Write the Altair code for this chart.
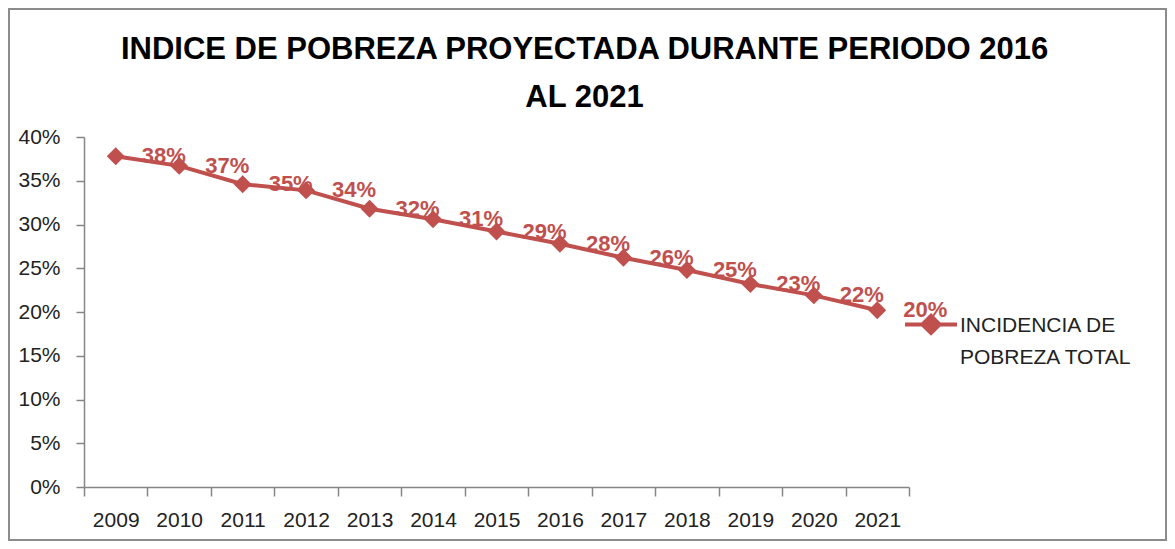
import altair as alt
import pandas as pd

years = ["2009", "2010", "2011", "2012", "2013", "2014", "2015",
         "2016", "2017", "2018", "2019", "2020", "2021"]
incidencia = [0.378, 0.367, 0.346, 0.339, 0.318, 0.306, 0.292,
              0.278, 0.262, 0.248, 0.232, 0.219, 0.202]
serie = "INCIDENCIA DE POBREZA TOTAL"
y_ticks = [0, 0.05, 0.10, 0.15, 0.20, 0.25, 0.30, 0.35, 0.40]

df = pd.DataFrame({"anio": years, "valor": incidencia, "serie": serie})

RED = "#C0504D"
FONT = "Liberation Sans"
W, H = 825, 350
PL, PT, PR, PB = 76, 129, 258, 54

x_enc = alt.X("anio:O", title=None,
              scale=alt.Scale(type="band", paddingInner=0, paddingOuter=0),
              axis=alt.Axis(labelAngle=0, tickBand="extent", tickSize=9,
                            labelPadding=13, labelFontSize=21, labelFont=FONT,
                            labelColor="#222", domainColor="#868686",
                            tickColor="#868686", domainWidth=1.5, tickWidth=1.5))
y_enc = alt.Y("valor:Q", title=None,
              scale=alt.Scale(domain=[0, 0.4], nice=False, zero=True),
              axis=alt.Axis(values=y_ticks, format=".0%", tickSize=8,
                            labelPadding=16, labelFontSize=21, labelFont=FONT,
                            labelColor="#222", domainColor="#868686",
                            tickColor="#868686", grid=False,
                            domainWidth=1.5, tickWidth=1.5))

base = alt.Chart(df)

line = base.mark_line(strokeWidth=4).encode(
    x=x_enc, y=y_enc,
    color=alt.Color("serie:N", scale=alt.Scale(range=[RED]), title=None,
                    legend=alt.Legend(
                        orient="none", legendX=819, legendY=167, padding=0,
                        symbolType="M-1,-0.29L1,-0.29M-0.33,-0.29L0,-0.62L0.33,-0.29L0,0.04Z",
                        symbolSize=2704, symbolStrokeWidth=4,
                        symbolFillColor=RED, symbolStrokeColor=RED,
                        labelExpr="[slice(datum.label, 0, 13), slice(datum.label, 14)]",
                        labelBaseline="alphabetic", labelFontSize=21,
                        labelFont=FONT, labelColor="#222", labelLimit=300,
                        labelOffset=1)),
)

points = base.mark_point(shape="diamond", filled=True, size=320, opacity=1,
                         color=RED).encode(x=x_enc, y=y_enc)

labels = base.mark_text(align="left", baseline="middle", dx=26, fontSize=22,
                        fontWeight="bold", font=FONT, color=RED).encode(
    x=x_enc, y=y_enc, text=alt.Text("valor:Q", format=".0%"))

border = alt.Chart(alt.Data(values=[{"k": 1}])).mark_rect(
    fill="transparent", stroke="#8c8c8c", strokeWidth=2).encode(
    x=alt.value(-PL + 1), x2=alt.value(W + PR - 1),
    y=alt.value(-PT + 1), y2=alt.value(H + PB - 1))

chart = alt.layer(border, line, points, labels).properties(
    width=W, height=H,
    padding={"left": PL, "top": PT, "right": PR, "bottom": PB},
    autosize=alt.AutoSizeParams(type="none"),
    title=alt.TitleParams(
        text=["INDICE DE POBREZA PROYECTADA DURANTE PERIODO 2016", "AL 2021"],
        fontSize=31, font=FONT, fontWeight="bold", color="#000",
        anchor="middle", frame="group", dx=88, offset=-137, lineHeight=48,
        baseline="bottom"),
).configure(
    style={"guide-label": {"lineHeight": 32}},
    view=alt.ViewConfig(stroke="transparent", strokeWidth=0),
)

chart.save("out.html", embed_options={"renderer": "svg", "actions": False})
